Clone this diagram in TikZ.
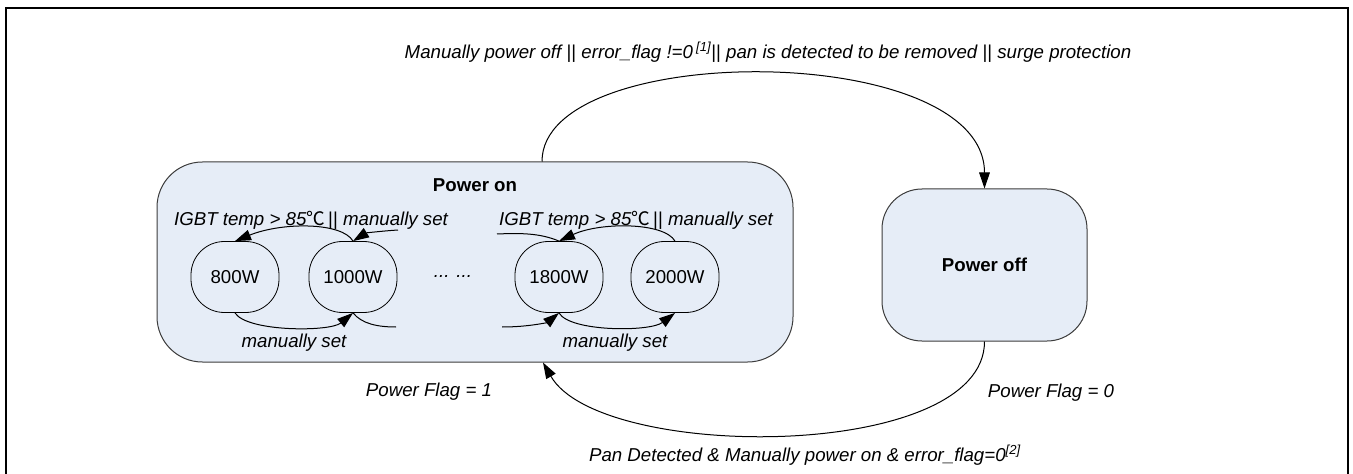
\documentclass[tikz,border=0pt]{standalone}
\usepackage{fontspec}
\setmainfont{Liberation Sans}
\newfontfamily\cjk{Noto Sans CJK SC}
\usetikzlibrary{arrows.meta,calc}
\definecolor{statefill}{RGB}{230,237,247}
\definecolor{stateline}{RGB}{60,60,60}
\tikzset{every picture/.style={line width=0.75pt}}
\tikzset{
  onbox/.style={draw=stateline, fill=statefill, rounded corners=34pt, minimum width=477pt, minimum height=150pt, inner sep=0pt},
  offbox/.style={draw=stateline, fill=statefill, rounded corners=30pt, minimum width=153.75pt, minimum height=114pt, inner sep=0pt, font=\fontsize{14}{17}\selectfont\bfseries},
  lvl/.style={draw=black, line width=0.6pt, rounded corners=25pt, minimum width=66pt, minimum height=53.25pt, inner sep=0pt, font=\fontsize{14}{17}\selectfont},
  lbl/.style={inner sep=0pt, font=\fontsize{14}{17}\selectfont\itshape}
}

\begin{document}
\begin{tikzpicture}[x=0.75pt,y=0.75pt,yscale=-1,xscale=1, >={Triangle[length=12pt,width=8pt]}]
\path[use as bounding box] (0,0) rectangle (1353,474);
%Frame
\draw[line width=1.5pt] (6,480) -- (6,8) -- (1348,8) -- (1348,480);
%Shape: Power on
\node[onbox] (on) at (475,262) {};
\node[inner sep=0pt, font=\fontsize{14}{17}\selectfont\bfseries] (ontitle) at (475,185) {Power on};
%Shape: Power off
\node[offbox] (off) at (984.5,265) {Power off};
%Power levels
\node[lvl] (p800) at (235,277) {800W};
\node[lvl] (p1000) at (353,277) {1000W};
\node[lbl] (dots) at (453,277) {... ...};
\node[lvl] (p1800) at (559,277) {1800W};
\node[lvl] (p2000) at (675,277) {2000W};
%free ends
\coordinate (in1000) at (398,230);
\coordinate (out1800) at (497,234);
\coordinate (out1000) at (396,327);
\coordinate (in1800) at (502,327);
%Top arcs (step down)
\draw[->] (p1000.north) .. controls (342,222) and (282,222) .. (p800.north);
\draw[->] (in1000) .. controls (382,231) and (366,233) .. (p1000.north);
\draw[->] (p2000.north) .. controls (664,222) and (600,222) .. (p1800.north);
\draw (p1800.north) .. controls (540,233) and (520,233) .. (out1800);
%Bottom arcs (step up)
\draw[->] (p800.south) .. controls (247,332) and (330,332) .. (p1000.south);
\draw (p1000.south) .. controls (362,324) and (378,327) .. (out1000);
\draw[->] (in1800) .. controls (530,327) and (548,322) .. (p1800.south);
\draw[->] (p1800.south) .. controls (570,332) and (650,332) .. (p2000.south);
% Text Node
\node[lbl] (down1) at (311,220) {IGBT temp > 85{\cjk ℃}\,{\upshape||} manually set};
\node[lbl] (down2) at (636,220) {IGBT temp > 85{\cjk ℃}\,{\upshape||} manually set};
\node[lbl] (up1) at (294,343) {manually set};
\node[lbl] (up2) at (615,343) {manually set};
%Power on -> Power off
\draw[->] ($(on.north)+(67,0)$) .. controls (542,40) and (984.5,40) .. (off.north);
%Power off -> Power on
\draw[->] (off.south) .. controls (984.5,462) and (600,462) .. ($(on.south)+(68,0)$);
% Text Node
\node[lbl] (offcond) at (768,52) {Manually power off {\upshape||} error\_flag !=0\,\textsuperscript{[1]}{\upshape||} pan is detected to be removed {\upshape||} surge protection};
\node[lbl] (flag1) at (429,392) {Power Flag = 1};
\node[lbl] (flag0) at (1051,393) {Power Flag = 0};
\node[lbl] (oncond) at (805,455) {Pan Detected \& Manually power on \& error\_flag=0\textsuperscript{[2]}};
\end{tikzpicture}
\end{document}
